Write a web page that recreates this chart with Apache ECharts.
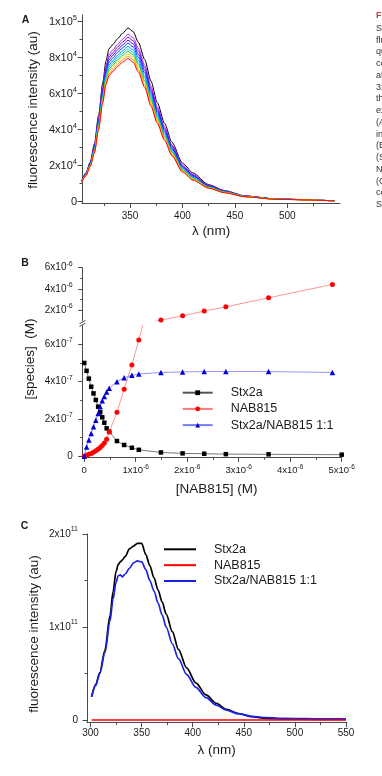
<!DOCTYPE html>
<html><head><meta charset="utf-8">
<script src="https://cdn.jsdelivr.net/npm/echarts@6/dist/echarts.min.js"></script>
<style>html,body{margin:0;padding:0;background:#fff;overflow:hidden;width:382px;height:776px}
.p{position:absolute;left:0;width:382px}</style>
</head><body>
<div id="a" class="p" style="top:0;height:245px"></div>
<div id="b" class="p" style="top:245px;height:265px"></div>
<div id="c" class="p" style="top:510px;height:266px"></div>
<script>
// ---------- Panel A: titration spectra (intensity in units of 1e3 au) ----------
const wavelengthA = [304,308,312,316,320,324,327,330,334,338,343,348,353,358,364,370,376,383,390,400,410,425,440,460,490,545];
const specA0  = [12,16,22,32,48,66,78,85,87.5,90.5,93.5,96.5,94.5,88.5,79,67,55,43.5,33,21.5,16,9.5,6.2,3.2,1.5,0.5];
const specA1  = [11.8,15.7,21.5,31,46.4,63.8,75.4,82,84.5,87.4,90.3,93.1,91.1,85.2,75.9,64.2,52.7,41.6,31.5,20.5,15.2,9.1,6.0,3.1,1.5,0.5];
const specA2  = [11.7,15.6,21.3,30.5,45.6,62.7,74.1,80.5,83,85.9,88.7,91.4,89.4,83.6,74.4,62.8,51.6,40.7,30.8,20,14.8,8.9,5.8,3.1,1.4,0.5];
const specA3  = [11.6,15.4,21,30,44.8,61.6,72.8,79,81.5,84.3,87.1,89.7,87.7,81.9,72.8,61.4,50.4,39.7,30,19.5,14.4,8.7,5.7,3.0,1.4,0.5];
const specA4  = [11.5,15.3,20.8,29.5,44,60.5,71.5,77.5,80,82.8,85.5,88,86,80.3,71.3,60,49.3,38.8,29.3,19,14,8.5,5.6,3.0,1.4,0.5];
const specA5  = [11.4,15.1,20.5,29,43.2,59.4,70.2,76,78.5,81.2,83.9,86.3,84.3,78.6,69.7,58.6,48.1,37.8,28.5,18.5,13.6,8.3,5.5,2.9,1.4,0.5];
const specA6  = [11.3,15,20.3,28.6,42.6,58.5,69.2,74.8,77.3,80,82.6,84.9,82.9,77.3,68.5,57.5,47.2,37,27.9,18.1,13.3,8.1,5.4,2.9,1.4,0.5];
const specA7  = [11.2,14.9,20.1,28.2,41.9,57.6,68.1,73.6,76.1,78.7,81.3,83.6,81.6,76,67.2,56.4,46.3,36.3,27.3,17.7,13,8,5.3,2.8,1.4,0.5];
const specA8  = [11.2,14.7,19.9,27.8,41.3,56.8,67.1,72.4,74.9,77.5,80.1,82.2,80.2,74.6,66,55.2,45.3,35.5,26.7,17.3,12.6,7.8,5.2,2.8,1.3,0.5];
const specA9  = [11.1,14.6,19.7,27.4,40.6,55.9,66,71.2,73.7,76.2,78.8,80.9,78.9,73.3,64.7,54.1,44.4,34.8,26.1,16.9,12.3,7.7,5.1,2.7,1.3,0.5];
const specA10 = [11,14.5,19.5,27,40,55,65,70,72.5,75,77.5,79.5,77.5,72,63.5,53,43.5,34,25.5,16.5,12,7.5,5,2.7,1.3,0.5];
const colorsA = ['#000000','#b030e0','#7a00f0','#3c10ff','#0040ff','#0090ff','#00c8d8','#20c030','#e0d400','#ff8c00','#ff0000'];
const ticksA_y = [0,20,40,60,80,100], minorA_y = [10,30,50,70,90];
const ticksA_x = [350,400,450,500], minorA_x = [325,375,425,475,525];

// ---------- Panel B: species (x in 1e-6 M, y in 1e-7 M) ----------
const nabTotal   = [0,0.045,0.09,0.135,0.18,0.225,0.27,0.31,0.35,0.39,0.435,0.485,0.635,0.775,0.925,1.06,1.49,1.91,2.33,2.75,3.58,4.82];
const nabTotalSt = [0,0.045,0.09,0.135,0.18,0.225,0.27,0.31,0.35,0.39,0.435,0.485,0.635,0.775,0.925,1.06,1.49,1.91,2.33,2.75,3.58,5.0];
const stx2aB   = [5.0,4.58,4.16,3.73,3.37,3.02,2.66,2.36,2.09,1.80,1.50,1.32,0.82,0.61,0.46,0.35,0.21,0.16,0.14,0.12,0.11,0.09];
const nab815B  = [0,0.06,0.11,0.16,0.22,0.3,0.38,0.47,0.58,0.72,0.92,1.3,2.36,3.59,4.89,6.23,10.6,14.6,19.1,23.1,31.6,44.2];
const complexB = [0,0.5,0.87,1.23,1.59,1.94,2.3,2.66,2.98,3.2,3.45,3.65,4.0,4.21,4.34,4.41,4.49,4.52,4.54,4.54,4.54,4.49];
const ticksB_x = [0,1,2,3,4,5], minorB_x = [0.5,1.5,2.5,3.5,4.5];
const ticksB_lo = [0,2,4,6], minorB_lo = [1,3,5];
const ticksB_hi = [20,40,60], minorB_hi = [30,50];

// ---------- Panel C: spectra (intensity in units of 1e11 au) ----------
const wavelengthC = [301,305,309,314,319,322,325,327,329,331,334,338,342,346,350,354,358,362,366,370,374,380,386,394,403,413,423,433,445,458,472,490,510,530,550];
const stx2aC   = [0.25,0.38,0.51,0.75,1.12,1.38,1.6,1.67,1.70,1.72,1.76,1.84,1.87,1.90,1.90,1.78,1.66,1.53,1.40,1.27,1.14,0.95,0.76,0.56,0.40,0.27,0.18,0.115,0.07,0.035,0.018,0.01,0.008,0.007,0.007];
const complexC = [0.25,0.37,0.50,0.72,1.06,1.30,1.48,1.55,1.56,1.54,1.57,1.63,1.69,1.71,1.70,1.62,1.50,1.39,1.26,1.13,1.0,0.82,0.66,0.49,0.35,0.24,0.16,0.105,0.065,0.04,0.025,0.017,0.014,0.012,0.012];
const wavelengthCred = [301,350,400,450,500,550];
const nab815C  = [0,0,0,0,0,0];
const ticksC_x = [300,350,400,450,500,550], minorC_x = [325,375,425,475,525];
const ticksC_y = [0,1,2], minorC_y = [0.5,1.5];

const legendNames = ['Stx2a','NAB815','Stx2a/NAB815 1:1'];
const captionLines = ['Fi','S','flu','qu','co','af','32','th','ex','(A','in','(B','(S','N','(C','co','S'];

// ---------- helpers ----------
const FONT = "'Liberation Sans', Arial, Helvetica, sans-serif";
const AX = '#4a4a4a', TXT = '#1a1a1a';
function richSet(size, sup, lh){
  return { m:{fontSize:size,fontFamily:FONT,color:TXT,lineHeight:lh},
           s:{fontSize:sup,fontFamily:FONT,color:TXT,lineHeight:sup+1,verticalAlign:'top'} };
}
function axes(kind, gridIndex, min, max, majors, minors, fmt, lab){
  const pos = kind === 'x' ? 'bottom' : 'left';
  const major = {type:'value', gridIndex, position:pos, min, max,
    axisLine:{show:true,onZero:false,lineStyle:{color:AX,width:1}},
    axisTick:{show:true,length:4.5,customValues:majors,lineStyle:{color:AX,width:1}},
    axisLabel:{show:true,customValues:majors,formatter:fmt,margin:lab.margin,fontSize:lab.size,
      lineHeight:lab.lh,color:TXT,fontFamily:FONT,rich:richSet(lab.size,lab.sup,lab.lh)},
    splitLine:{show:false}, splitArea:{show:false}};
  const minor = {type:'value', gridIndex, position:pos, min, max,
    axisLine:{show:false,onZero:false},
    axisTick:{show:true,length:2.5,customValues:minors,lineStyle:{color:AX,width:1}},
    axisLabel:{show:false}, splitLine:{show:false}};
  return [major, minor];
}
function txt(x, y, text, size, opt){
  opt = opt || {};
  return {type:'text', x, y, rotation: opt.rot || 0, silent:true,
    style:{text, fontSize:size, fontFamily:FONT, fontWeight:opt.bold?'bold':'normal',
      fill:opt.color||TXT, align:opt.align||'center', verticalAlign:'middle'}};
}
const sup = (m, s) => s === null ? `{m|${m}}` : `{m|${m}}{s|${s}}`;
const pairs = (xs, ys) => xs.map((x, i) => [x, ys[i]]);

// ---------- Chart A ----------
const specA = [specA0,specA1,specA2,specA3,specA4,specA5,specA6,specA7,specA8,specA9,specA10];
const [axA, axAm] = axes('x',0,304.2,550.3,ticksA_x,minorA_x,v=>sup(v,null),{size:10,sup:7,lh:13,margin:6});
const [ayA, ayAm] = axes('y',0,-1,103.7,ticksA_y,minorA_y,
  v => v===0 ? sup('0',null) : (v===100 ? sup('1x10','5') : sup((v/10)+'x10','4')),
  {size:11,sup:7.5,lh:16,margin:5});
const chartA = echarts.init(document.getElementById('a'));
const caption = captionLines.map((t, i) => txt(376, i===0 ? 15.7 : 28.3 + (i-1)*11.76, t, 9,
  {align:'left', color: i===0 ? '#b8443c' : '#333', bold: i===0}));
chartA.setOption({
  animation:false,
  grid:[{left:82, top:15, width:258, height:188.5, outerBoundsMode:'none', containLabel:false}],
  xAxis:[axA, axAm], yAxis:[ayA, ayAm],
  series: specA.map((arr, i) => ({type:'line', xAxisIndex:0, yAxisIndex:0, data:pairs(wavelengthA, arr),
    symbol:'none', showSymbol:false, smooth:0.25, smoothMonotone:'x', silent:true,
    lineStyle:{width:1, color:colorsA[i]}, itemStyle:{color:colorsA[i]}})),
  graphic: [
    txt(25.5, 20, 'A', 10.5, {bold:true}),
    txt(33, 110, 'fluorescence intensity (au)', 13.5, {rot:Math.PI/2}),
    txt(211, 231.7, 'λ (nm)', 13.5)
  ].concat(caption)
});

// ---------- Chart B ----------
const [axB, axBm] = axes('x',0,-0.03,5.0,ticksB_x,minorB_x,
  v => v===0 ? sup('0',null) : sup(v+'x10','-6'), {size:9.5,sup:6.5,lh:15,margin:6});
const [ayBlo, ayBlom] = axes('y',0,-0.05,7,ticksB_lo,minorB_lo,
  v => v===0 ? sup('0',null) : sup(v+'x10','-7'), {size:10,sup:7,lh:15,margin:10});
const [ayBhi, ayBhim] = axes('y',1,10,60,ticksB_hi,minorB_hi,
  v => sup((v/10)+'x10','-6'), {size:10,sup:7,lh:15,margin:10});
const axBhi = {type:'value', gridIndex:1, min:-0.03, max:5.0, show:false};
const lineB = (name, xs, ys, xi, yi, sym, size, col, lcol) => ({
  type:'line', name, xAxisIndex:xi, yAxisIndex:yi, data:pairs(xs, ys), clip:true,
  symbol:sym, symbolSize:size, showSymbol:true, silent:true,
  itemStyle:{color:col}, lineStyle:{color:lcol, width:0.8}});
const chartB = echarts.init(document.getElementById('b'));
chartB.setOption({
  animation:false,
  grid:[{left:82.7, top:80.6, width:259, height:131.7, outerBoundsMode:'none'},
        {left:82.7, top:22.7, width:259, height:53, outerBoundsMode:'none'}],
  xAxis:[axB, axBm, axBhi],
  yAxis:[ayBlo, ayBlom, ayBhi, ayBhim],
  legend:{orient:'vertical', left:181.7, top:140.7, padding:0, itemWidth:30, itemHeight:6, itemGap:2.2,
    data:legendNames, selectedMode:false,
    textStyle:{fontSize:12.5, fontFamily:FONT, color:TXT, lineHeight:14, padding:[0,0,0,13]}},
  series:[
    lineB('Stx2a', nabTotalSt, stx2aB, 0, 0, 'rect', 4.5, '#000000', '#555555'),
    lineB('NAB815', nabTotal, nab815B, 0, 0, 'circle', 5, '#ff0000', '#ff7a7a'),
    lineB('Stx2a/NAB815 1:1', nabTotal, complexB, 0, 0, 'triangle', 5.5, '#0000d8', '#7a7aff'),
    lineB('NAB815', nabTotal, nab815B, 2, 2, 'circle', 5, '#ff0000', '#ff7a7a')
  ],
  graphic:[
    txt(25, 18.3, 'B', 10.5, {bold:true}),
    txt(30, 114, '[species]  (M)', 13.5, {rot:Math.PI/2}),
    txt(216.7, 244.3, '[NAB815] (M)', 13.5),
    {type:'line', silent:true, shape:{x1:79.5,y1:78.6,x2:85.5,y2:75.4}, style:{stroke:AX, lineWidth:1}},
    {type:'line', silent:true, shape:{x1:79.5,y1:81.4,x2:85.5,y2:78.2}, style:{stroke:AX, lineWidth:1}}
  ]
});

// ---------- Chart C ----------
const [axC, axCm] = axes('x',0,296.5,551,ticksC_x,minorC_x,v=>sup(v,null),{size:10,sup:7,lh:13,margin:4});
const [ayC, ayCm] = axes('y',0,-0.029,2,ticksC_y,minorC_y,
  v => v===0 ? sup('0',null) : sup(v+'x10','11'), {size:10,sup:7,lh:16,margin:9});
const lineC = (name, xs, ys, col, z) => ({type:'line', name, data:pairs(xs, ys), symbol:'none', showSymbol:false,
  smooth:0.3, smoothMonotone:'x', silent:true, z, lineStyle:{color:col, width:1.7}, itemStyle:{color:col}});
const chartC = echarts.init(document.getElementById('c'));
chartC.setOption({
  animation:false,
  grid:[{left:87, top:24, width:260, height:188.7, outerBoundsMode:'none'}],
  xAxis:[axC, axCm], yAxis:[ayC, ayCm],
  legend:{orient:'vertical', left:163, top:32.3, padding:0, itemWidth:32, itemHeight:1, itemGap:1.85,
    data:legendNames, selectedMode:false,
    textStyle:{fontSize:12.5, fontFamily:FONT, color:TXT, lineHeight:14, padding:[0,0,0,13]}},
  series:[
    lineC('Stx2a', wavelengthC, stx2aC, '#000000', 2),
    lineC('NAB815', wavelengthCred, nab815C, '#ff0000', 4),
    lineC('Stx2a/NAB815 1:1', wavelengthC, complexC, '#1a22e6', 3)
  ],
  graphic:[
    txt(24.5, 16.3, 'C', 10.5, {bold:true}),
    txt(34.5, 124, 'fluorescence intensity (au)', 13.5, {rot:Math.PI/2}),
    txt(216.7, 240, 'λ (nm)', 13.5)
  ]
});
</script>
</body></html>
